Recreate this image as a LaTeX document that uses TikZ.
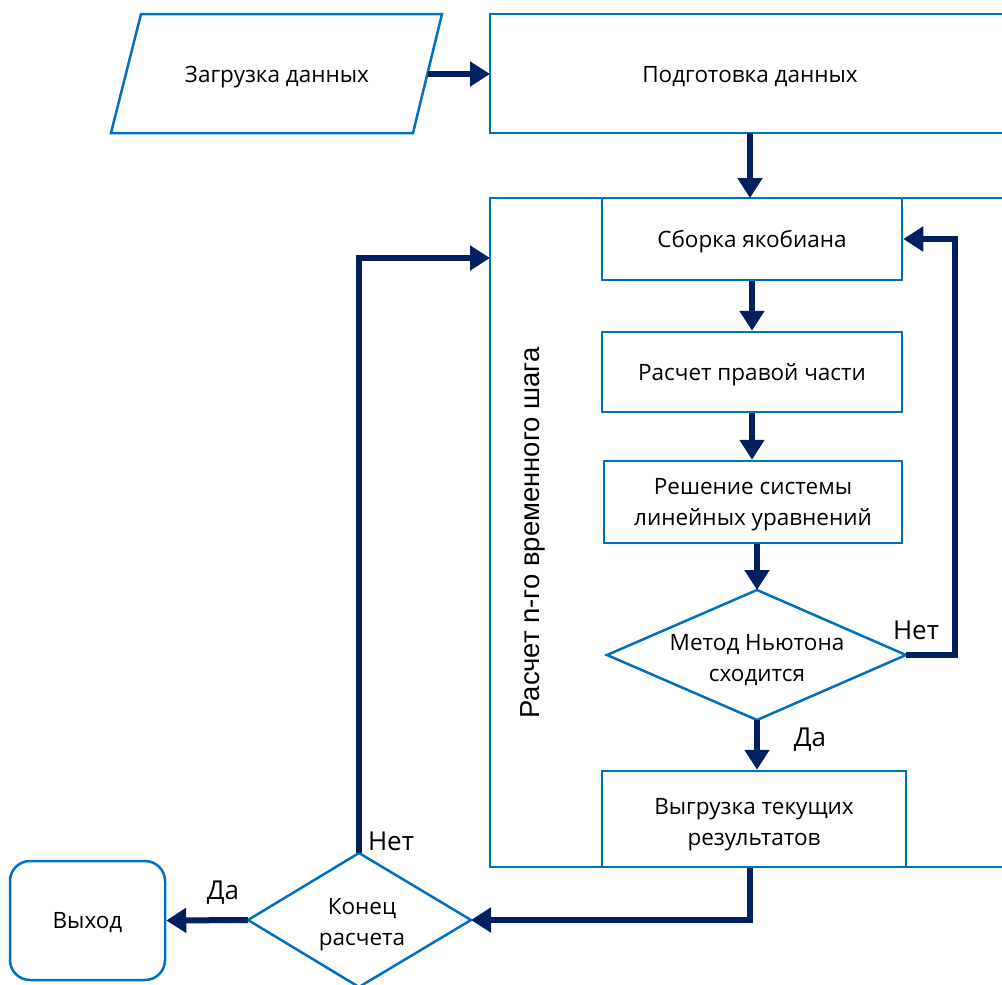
\documentclass[tikz,border=0pt]{standalone}
\usepackage{fontspec}
\setmainfont{Open Sans}
\newfontfamily\arialfont{Liberation Sans}
\usetikzlibrary{arrows.meta}
\definecolor{boxblue}{HTML}{0070C0}
\definecolor{navy}{HTML}{002060}
\tikzset{
  boxline/.style={draw=boxblue, line width=2.5pt, line join=miter},
  box/.style={boxline, fill=white, font=\fontsize{22.5}{31}\selectfont, align=center, inner sep=0pt, text depth=0pt},
  txt/.style={font=\fontsize{22.5}{31}\selectfont, align=center, inner sep=0pt, text depth=0pt},
  arr/.style={draw=navy, line width=6pt, -{Triangle[length=20pt,width=24pt]}},
  lbl/.style={font=\fontsize{26}{30}\selectfont, inner sep=0pt}
}
\begin{document}
\begin{tikzpicture}[x=1pt,y=-1pt]
\useasboundingbox (0,0) rectangle (1002,985);
% outer time-step frame (open to the right)
\draw[boxline] (1002,198) -- (490,198) -- (490,867) -- (1002,867);
\node[rotate=90, font=\arialfont\fontsize{27.5}{30}\selectfont, inner sep=0pt] (steplbl) at (533,533) {Расчет n-го временного шага};
% data load (parallelogram)
\draw[boxline, fill=white] (141,14) -- (442,14) -- (413,133) -- (111,133) -- cycle;
\node[txt] (load) at (277,74) {Загрузка данных};
\coordinate (loadR) at (428,74);
% data preparation (open to the right)
\draw[boxline] (1002,14) -- (490,14) -- (490,133) -- (1002,133);
\node[txt] (prep) at (750,74) {Подготовка данных};
\coordinate (prepW) at (490,74);
\coordinate (prepS) at (750,133);
\coordinate (bigN) at (750,198);
\coordinate (bigW) at (490,258);
% inner boxes
\node[box, minimum width=300pt, minimum height=82pt] (jac) at (752,239) {Сборка якобиана};
\node[box, minimum width=300pt, minimum height=80pt] (rhs) at (752,372) {Расчет правой части};
\node[box, minimum width=298pt, minimum height=82pt] (solve) at (753,502) {Решение системы\\линейных уравнений};
% Newton diamond
\coordinate (nt) at (757,590);
\coordinate (nb) at (757,720);
\coordinate (nl) at (607,655);
\coordinate (nr) at (906,655);
\draw[boxline, fill=white] (nt) -- (nr) -- (nb) -- (nl) -- cycle;
\node[txt] (newton) at (757,658) {Метод Ньютона\\сходится};
\node[box, minimum width=304pt, minimum height=96pt] (unload) at (754,819) {};
\node[txt] (unloadtxt) at (754,822) {Выгрузка текущих\\результатов};
% end diamond
\coordinate (et) at (359,853);
\coordinate (eb) at (359,987);
\coordinate (el) at (248,920);
\coordinate (er) at (471,920);
\draw[boxline, fill=white] (et) -- (er) -- (eb) -- (el) -- cycle;
\node[txt] (endc) at (362,922) {Конец\\расчета};
% exit
\node[box, rounded corners=20pt, minimum width=155pt, minimum height=119pt] (exit) at (87.5,920.5) {Выход};
% connectors
\draw[arr] (loadR) -- (prepW);
\draw[arr] (prepS) -- (bigN);
\draw[arr] (jac.south) -- (rhs.north);
\draw[arr] (rhs.south) -- (rhs.south |- solve.north);
\draw[arr] (nt |- solve.south) -- (nt);
\draw[arr] (nr) -- ++(49,0) |- (jac.east);
\draw[arr] (nb) -- (nb |- unload.north);
\draw[arr] ([xshift=-4pt]unload.south) |- (er);
\draw[arr] (et) |- (bigW);
\draw[arr] (el) -- (exit.east);
% labels
\node[lbl] (no1) at (916,630) {Нет};
\node[lbl] (yes1) at (810,740) {Да};
\node[lbl] (no2) at (391,841) {Нет};
\node[lbl] (yes2) at (223,893) {Да};
\end{tikzpicture}
\end{document}
